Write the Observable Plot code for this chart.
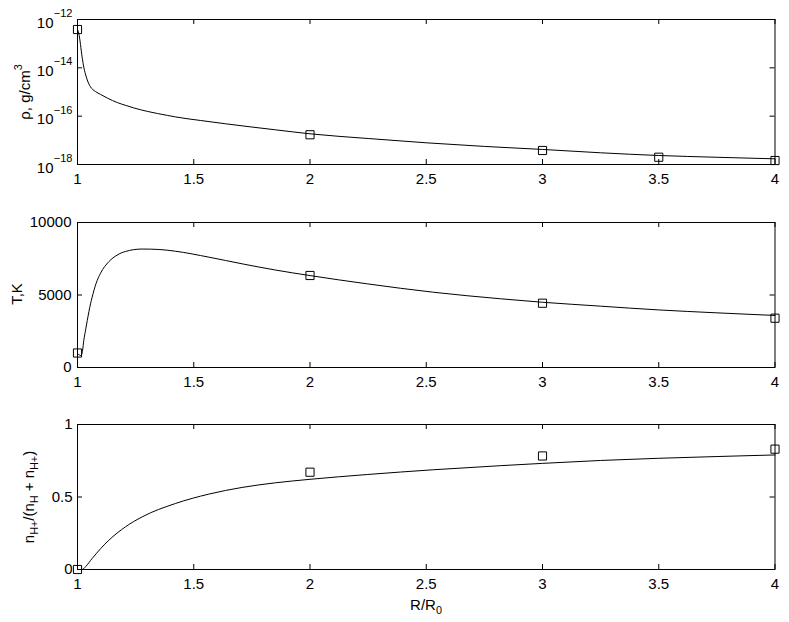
<!DOCTYPE html>
<html>
<head>
<meta charset="utf-8">
<script src="https://cdn.jsdelivr.net/npm/d3@7"></script>
<script src="https://cdn.jsdelivr.net/npm/@observablehq/plot@0.6"></script>
<style>
  html, body { margin: 0; padding: 0; background: #fff; }
  body { font-family: "Liberation Sans", Arial, Helvetica, sans-serif; color: #000; }
  #wrap { position: relative; width: 789px; height: 622px; overflow: hidden; }
  .panel { position: absolute; left: 0; }
  .lab { position: absolute; font-size: 15px; line-height: 1; white-space: nowrap; }
  .rot { transform: translate(-50%, -50%) rotate(-90deg); }
  .ctr { transform: translate(-50%, -50%); }
  .sup { position: relative; font-size: 0.72em; top: -0.75em; }
  .sub { position: relative; font-size: 0.72em; top: 0.35em; }
</style>
</head>
<body>
<div id="wrap"></div>
<script>
// ---- shared x axis ----
const xTicks = [1, 1.5, 2, 2.5, 3, 3.5, 4];

// ---- panel 1: density (log) ----
const rhoLineX = [1, 1.0056, 1.020, 1.027, 1.034, 1.042, 1.049, 1.056, 1.066, 1.077, 1.099, 1.13, 1.172, 1.206, 1.241, 1.3, 1.388, 1.421, 1.53, 1.637, 1.75, 1.852, 2, 2.25, 2.5, 2.75, 3, 3.25, 3.5, 3.75, 4];
const rhoLineY = [3.85e-13, 2.63e-13, 2.75e-14, 1.07e-14, 5.62e-15, 3.16e-15, 2.14e-15, 1.62e-15, 1.26e-15, 1.05e-15, 7.94e-16, 5.50e-16, 3.63e-16, 2.82e-16, 2.21e-16, 1.58e-16, 1.07e-16, 9.33e-17, 6.61e-17, 4.84e-17, 3.55e-17, 2.72e-17, 1.86e-17, 1.19e-17, 7.9e-18, 5.6e-18, 4.2e-18, 3.05e-18, 2.36e-18, 1.99e-18, 1.72e-18];
const rhoPtsX = [1, 2, 3, 3.5, 4];
const rhoPtsY = [3.85e-13, 1.7e-17, 3.8e-18, 2.0e-18, 1.46e-18];
const rhoTicks = [1e-18, 1e-16, 1e-14, 1e-12];

// ---- panel 2: temperature ----
const tLineX = [1.0, 1.008, 1.013, 1.018, 1.022, 1.027, 1.035, 1.042, 1.056, 1.063, 1.08, 1.099, 1.135, 1.17, 1.206, 1.278, 1.35, 1.421, 1.565, 1.708, 1.852, 2.0, 2.246, 2.531, 2.819, 3.0, 3.25, 3.5, 3.75, 4];
const tLineY = [950, 870, 830, 900, 1200, 1860, 2600, 3240, 4390, 4850, 5800, 6500, 7300, 7750, 8000, 8170, 8140, 8020, 7610, 7150, 6720, 6340, 5770, 5190, 4740, 4500, 4230, 3970, 3770, 3590];
const tPtsX = [1, 2, 3, 4];
const tPtsY = [1000, 6345, 4434, 3400];
const tTicks = [0, 5000, 10000];

// ---- panel 3: ionisation fraction ----
const nLineX = [1, 1.02, 1.035, 1.063, 1.1, 1.135, 1.206, 1.278, 1.421, 1.565, 1.708, 1.852, 2.0, 2.246, 2.532, 2.819, 3.0, 3.25, 3.5, 3.75, 4];
const nLineY = [0, 0, 0.02, 0.076, 0.145, 0.202, 0.294, 0.363, 0.455, 0.52, 0.566, 0.598, 0.622, 0.655, 0.688, 0.716, 0.732, 0.752, 0.767, 0.779, 0.79];
const nPtsX = [1, 2, 3, 4];
const nPtsY = [0, 0.671, 0.783, 0.83];
const nTicks = [0, 0.5, 1];
const nTickLabels = ["0", "0.5", "1"];

const W = 789, H = 200, ML = 77, MR = 14.5, MT = 19, MB = 36;
const PW = W - ML - MR, PH = H - MT - MB;
const FONT = "Liberation Sans, Arial, Helvetica, sans-serif";

function zip(xs, ys) { return xs.map((x, i) => ({x, y: ys[i]})); }

function commonMarks(yTicks) {
  return [
    Plot.frame({stroke: "black", strokeWidth: 1}),
    Plot.tickX(xTicks, {x: d => d, insetTop: PH - 5, stroke: "black"}),
    Plot.tickX(xTicks, {x: d => d, insetBottom: PH - 5, stroke: "black"}),
    Plot.tickY(yTicks, {y: d => d, insetRight: PW - 5, stroke: "black"}),
    Plot.tickY(yTicks, {y: d => d, insetLeft: PW - 5, stroke: "black"}),
    Plot.axisX(xTicks, {tickSize: 0, tickPadding: 9, fontSize: 15, label: null, tickFormat: d => String(d)})
  ];
}

function makePlot(yOpts, marks) {
  return Plot.plot({
    width: W, height: H,
    marginLeft: ML, marginRight: MR, marginTop: MT, marginBottom: MB,
    style: {fontSize: "15px", fontFamily: FONT, color: "black", background: "white", overflow: "visible"},
    x: {domain: [1, 4], axis: null, label: null},
    y: {...yOpts, axis: null, label: null},
    marks
  });
}

// Panel 1
const p1 = makePlot({type: "log", domain: [1e-18, 1e-12]}, [
  ...commonMarks(rhoTicks),
  Plot.text(rhoTicks, {y: d => d, frameAnchor: "left", text: () => "10", textAnchor: "end", dx: -24, dy: 3.5, fontSize: 15, fill: "black"}),
  Plot.text(rhoTicks, {y: d => d, frameAnchor: "left", text: d => "\u2212" + Math.abs(Math.round(Math.log10(d))), textAnchor: "end", dx: -5, dy: -6, fontSize: 11, fill: "black"}),
  Plot.line(zip(rhoLineX, rhoLineY), {x: "x", y: "y", stroke: "black", strokeWidth: 1, curve: "monotone-x"}),
  Plot.dot(zip(rhoPtsX, rhoPtsY), {x: "x", y: "y", symbol: "square", r: 4.6, stroke: "black", fill: "none", strokeWidth: 1})
]);

// Panel 2
const p2 = makePlot({domain: [0, 10000]}, [
  ...commonMarks(tTicks),
  Plot.axisY(tTicks, {tickSize: 0, tickPadding: 6, fontSize: 15, label: null, tickFormat: d => String(d)}),
  Plot.line(zip(tLineX, tLineY), {x: "x", y: "y", stroke: "black", strokeWidth: 1, curve: "monotone-x"}),
  Plot.dot(zip(tPtsX, tPtsY), {x: "x", y: "y", symbol: "square", r: 4.6, stroke: "black", fill: "none", strokeWidth: 1})
]);

// Panel 3
const p3 = makePlot({domain: [0, 1]}, [
  ...commonMarks(nTicks),
  Plot.axisY(nTicks, {tickSize: 0, tickPadding: 5, fontSize: 15, label: null, tickFormat: d => nTickLabels[nTicks.indexOf(d)]}),
  Plot.line(zip(nLineX, nLineY), {x: "x", y: "y", stroke: "black", strokeWidth: 1, curve: "monotone-x"}),
  Plot.dot(zip(nPtsX, nPtsY), {x: "x", y: "y", symbol: "square", r: 4.6, stroke: "black", fill: "none", strokeWidth: 1})
]);

const wrap = document.getElementById("wrap");
[[p1, 0], [p2, 203], [p3, 405]].forEach(([svg, top]) => {
  const d = document.createElement("div");
  d.className = "panel";
  d.style.top = top + "px";
  d.appendChild(svg);
  wrap.appendChild(d);
});

// Axis titles (HTML so that sub/superscripts render)
const labels = [
  {html: "\u03c1, g/cm<span class='sup'>3</span>", x: 24, y: 92, cls: "rot"},
  {html: "T,K", x: 16, y: 294, cls: "rot"},
  {html: "n<span class='sub'>H+</span>/(n<span class='sub'>H</span> + n<span class='sub'>H+</span>)", x: 28, y: 497, cls: "rot"},
  {html: "R/R<span class='sub'>0</span>", x: 426, y: 604, cls: "ctr"}
];
labels.forEach(l => {
  const d = document.createElement("div");
  d.className = "lab " + l.cls;
  d.style.left = l.x + "px";
  d.style.top = l.y + "px";
  d.innerHTML = l.html;
  wrap.appendChild(d);
});
</script>
</body>
</html>
